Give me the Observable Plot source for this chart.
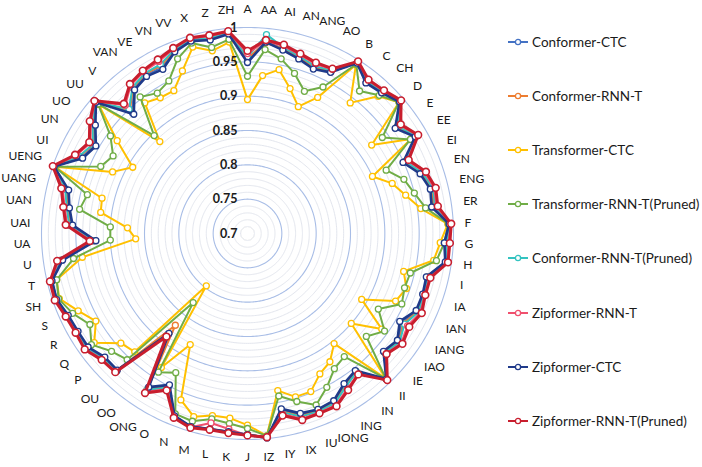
<!DOCTYPE html>
<html>
<head>
<meta charset="utf-8">
<script src="https://cdn.jsdelivr.net/npm/d3@7"></script>
<script src="https://cdn.jsdelivr.net/npm/@observablehq/plot@0.6"></script>
<style>
  body { margin: 0; background: #fff; }
  #wrap { position: relative; width: 702px; height: 467px; font-family: Lato, sans-serif; }
  #wrap svg { display: block; }
  .key { position: absolute; left: 508px; height: 16px; display: flex; align-items: center; font-size: 13.5px; color: #1a1a1a; white-space: nowrap; }
  .key svg { margin-right: 2px; }
</style>
</head>
<body>
<div id="wrap"></div>
<script>
// Pinyin phone units around the radar, clockwise from the top
const categories = ["A","AA","AI","AN","ANG","AO","B","C","CH","D","E","EE","EI","EN","ENG","ER","F","G","H",
  "I","IA","IAN","IANG","IAO","IE","II","IN","ING","IONG","IU","IX","IY","IZ","J","K","L","M","N",
  "O","ONG","OO","OU","P","Q","R","S","SH","T","U","UA","UAI","UAN","UANG","UENG","UI","UN","UO","UU",
  "V","VAN","VE","VN","VV","X","Z","ZH"];

const seriesNames = ["Conformer-CTC","Conformer-RNN-T","Transformer-CTC","Transformer-RNN-T(Pruned)",
  "Conformer-RNN-T(Pruned)","Zipformer-RNN-T","Zipformer-CTC","Zipformer-RNN-T(Pruned)"];
const seriesColors = ["#4472C4","#ED7D31","#FFC000","#70AD47","#33C3C0","#F0506E","#1F3A8A","#C81E2E"];
const radialTicks = [0.7, 0.75, 0.8, 0.85, 0.9, 0.95, 1];

const conformerCtc = [.952,.981,.974,.967,.960,.965, .995,.980,.984,.993, .966,.983,.951,.968,.976,.973, .994,.989,.992,
  .969,.971,.972,.959,.970,.963,.993,.955,.962,.976,.977,.975,.962,.998, .993,.990,.990,.993,.986,
  .950,.968,.886,.976, .976,.986,.986,.988,.994,.993, .973,.922,.957,.964,.970,.998,.966,.957,.974,.992,
  .943,.968,.974,.972,.986, .993,.988,.993];
const conformerRnnt = [.955,.979,.974,.966,.961,.965, .996,.980,.984,.994, .968,.983,.952,.969,.977,.974, .995,.990,.992,
  .970,.971,.973,.962,.971,.964,.993,.956,.964,.977,.978,.977,.964,.998, .993,.990,.990,.993,.987,
  .951,.970,.870,.976, .977,.987,.986,.988,.995,.994, .975,.924,.959,.965,.972,.999,.969,.959,.976,.993,
  .948,.970,.976,.975,.987, .994,.989,.993];
const transformerCtc = [.895,.931,.943,.920,.899,.923, .992,.942,.976,.992, .922,.975,.900,.923,.937,.955, .992,.981,.974,
  .934,.945,.937,.892,.940,.900,.992,.904,.922,.930,.948,.948,.933,.996, .979,.970,.970,.978,.961,
  .882,.932,.797,.938, .944,.974,.955,.971,.990,.986, .943,.863,.875,.916,.918,.997,.916,.893,.933,.987,
  .885,.942,.935,.934,.955, .983,.971,.980];
const transformerRnntPruned = [.929,.969,.959,.943,.923,.940, .993,.964,.978,.992, .941,.974,.922,.941,.950,.962, .993,.987,.978,
  .944,.942,.947,.920,.945,.929,.992,.928,.934,.952,.969,.955,.941,.996, .984,.978,.975,.985,.983,
  .928,.940,.828,.954, .962,.979,.965,.980,.991,.986, .956,.900,.900,.947,.940,.997,.935,.926,.945,.988,
  .897,.953,.943,.950,.974, .989,.976,.984];
const conformerRnntPruned = [.957,.991,.976,.969,.963,.967, .996,.982,.985,.994, .969,.984,.953,.970,.978,.976, .995,.991,.993,
  .971,.972,.974,.964,.972,.965,.994,.957,.965,.978,.979,.978,.965,.998, .993,.991,.990,.994,.987,
  .952,.971,.887,.977, .978,.988,.987,.989,.995,.994, .976,.925,.960,.966,.973,.999,.970,.960,.977,.993,
  .950,.971,.977,.977,.988, .994,.990,.994];
const zipformerRnnt = [.962,.982,.978,.971,.966,.969, .997,.984,.987,.995, .972,.986,.956,.973,.980,.978, .996,.993,.994,
  .973,.973,.977,.969,.975,.967,.994,.960,.969,.981,.981,.981,.968,.998, .994,.986,.981,.994,.988,
  .955,.974,.889,.978, .980,.990,.988,.990,.996,.995, .978,.928,.963,.969,.977,.999,.974,.964,.980,.994,
  .958,.975,.980,.982,.990, .996,.993,.995];
const zipformerCtc = [.949,.980,.972,.965,.958,.964, .995,.979,.983,.993, .964,.982,.949,.966,.974,.971, .994,.987,.991,
  .968,.970,.970,.956,.968,.962,.993,.954,.960,.974,.976,.973,.960,.999, .993,.990,.990,.993,.986,
  .948,.966,.885,.975, .975,.985,.985,.987,.994,.993, .972,.921,.955,.962,.968,.998,.964,.955,.972,.992,
  .940,.966,.972,.969,.985, .992,.987,.992];
const zipformerRnntPruned = [.966,.983,.980,.973,.968,.970, .998,.985,.988,.996, .974,.987,.958,.975,.982,.980, .997,.995,.995,
  .974,.974,.979,.972,.977,.968,.995,.961,.971,.983,.982,.983,.970,.998, .994,.992,.991,.995,.989,
  .957,.976,.891,.979, .981,.991,.989,.991,.997,.996, .980,.930,.965,.971,.979,1.0,.976,.966,.982,.995,
  .961,.977,.982,.985,.991, .997,.994,.996];

const seriesValues = [conformerCtc, conformerRnnt, transformerCtc, transformerRnntPruned,
  conformerRnntPruned, zipformerRnnt, zipformerCtc, zipformerRnntPruned];

// Geometry: the radial value maps to angular distance from the pole of an
// azimuthal-equidistant projection; 0.01 of accuracy = 1 degree.
const vMin = 0.7;
const toDeg = v => (v - vMin) * 100;
const outerDeg = toDeg(1);
const n = categories.length;
const angleOf = i => i * 360 / n;      // clockwise from top
const lonOf = i => 180 - angleOf(i);
const W = 702, H = 467;
const margin = {left: 41, right: 249, top: 27, bottom: 28};
const radiusPx = (W - margin.left - margin.right) / 2;
const pxToDeg = px => px * outerDeg / radiusPx;

const circle = deg => d3.geoCircle().center([0, 90]).radius(deg).precision(1)();

const minorRings = d3.range(71, 100).filter(k => k % 5 !== 0).map(k => k / 100);
const majorRings = radialTicks.filter(v => v > vMin);

const rows = seriesNames.map((name, s) => seriesValues[s].map((v, i) => ({name, i, v})));

// Category labels sit just outside the outer ring; their box touches a circle.
const labelFont = 12;
const ctx = document.createElement("canvas").getContext("2d");
ctx.font = `${labelFont}px Lato`;
const labelRows = categories.map((c, i) => {
  const a = angleOf(i) * Math.PI / 180;
  const w = ctx.measureText(c).width;
  const r = radiusPx + 11 + (w / 2) * Math.abs(Math.sin(a)) + 7 * Math.abs(Math.cos(a));
  return {c, lon: lonOf(i), lat: 90 - pxToDeg(r)};
});

const marks = [
  Plot.geo(minorRings, {geometry: v => circle(toDeg(v)), stroke: "#e3e6ee", strokeWidth: 1}),
  Plot.geo(majorRings, {geometry: v => circle(toDeg(v)), stroke: "#a8bde6", strokeWidth: 1.1})
];
rows.forEach((data, s) => {
  const last = s === rows.length - 1;
  const navy = s === 6;
  marks.push(Plot.line(data, {
    x: d => lonOf(d.i), y: d => 90 - toDeg(d.v),
    stroke: seriesColors[s], strokeWidth: last ? 3 : navy ? 2.6 : 2,
    curve: "linear-closed"
  }));
  marks.push(Plot.dot(data, {
    x: d => lonOf(d.i), y: d => 90 - toDeg(d.v),
    r: last ? 3.4 : 3, fill: "white", stroke: seriesColors[s], strokeWidth: last ? 1.6 : 1.3
  }));
});
marks.push(Plot.text(labelRows, {
  x: "lon", y: "lat", text: "c", fontSize: labelFont, fill: "#1a1a1a", textAnchor: "middle", lineAnchor: "middle"
}));
marks.push(Plot.text(radialTicks, {
  x: 180, y: v => 90 - toDeg(v), text: v => String(v), dx: -10, textAnchor: "end",
  lineAnchor: "middle", fontSize: 12.5, fontWeight: "bold", fill: "#1a1a1a"
}));

const chart = Plot.plot({
  width: W, height: H,
  marginLeft: margin.left, marginRight: margin.right, marginTop: margin.top, marginBottom: margin.bottom,
  style: {fontFamily: "Lato, sans-serif", background: "white", overflow: "visible"},
  projection: {type: "azimuthal-equidistant", rotate: [0, -90], domain: circle(outerDeg), clip: false},
  marks
});

const wrap = document.getElementById("wrap");
wrap.appendChild(chart);

// Series key on the right
const keyTops = [41.5, 95.7, 149.9, 204.1, 258.3, 312.5, 366.7, 420.9];
seriesNames.forEach((name, s) => {
  const div = document.createElement("div");
  div.className = "key";
  div.style.top = (keyTops[s] - 8) + "px";
  const sw = d3.create("svg").attr("width", 22).attr("height", 12);
  sw.append("line").attr("x1", 0).attr("x2", 20).attr("y1", 6).attr("y2", 6)
    .attr("stroke", seriesColors[s]).attr("stroke-width", 2);
  sw.append("circle").attr("cx", 10).attr("cy", 6).attr("r", 2.6)
    .attr("fill", "white").attr("stroke", seriesColors[s]).attr("stroke-width", 1.3);
  div.appendChild(sw.node());
  const span = document.createElement("span");
  span.textContent = name;
  div.appendChild(span);
  wrap.appendChild(div);
});
</script>
</body>
</html>
